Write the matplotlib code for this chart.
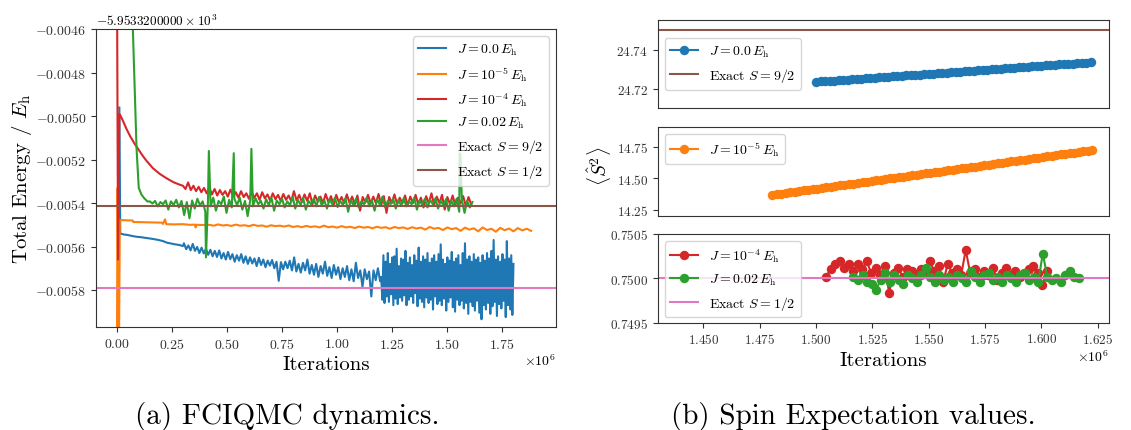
import numpy as np
import matplotlib
matplotlib.use('Agg')
import matplotlib.pyplot as plt
from matplotlib.ticker import FixedLocator, FuncFormatter

plt.rcParams.update({
    'font.family': ['cmr10', 'DejaVu Serif'],
    'mathtext.fontset': 'cm',
    'axes.formatter.use_mathtext': True,
    'axes.unicode_minus': True,
    'axes.edgecolor': '#333333',
    'xtick.color': '#333333',
    'ytick.color': '#333333',
})

# ---------------- data: left panel (x in 1e6 iterations, y in 1e-4 Eh, relative to -5953.32 Eh)
labels_J = [r'$J = 0.0\,E_\mathrm{h}$', r'$J = 10^{-5}\,E_\mathrm{h}$',
            r'$J = 10^{-4}\,E_\mathrm{h}$', r'$J = 0.02\,E_\mathrm{h}$']
label_exact92 = r'Exact $S = 9/2$'
label_exact12 = r'Exact $S = 1/2$'
exact_92_energy = -57.92
exact_12_energy = -54.12

# J = 0.0
blue_x0 = [0.012, 0.016, 0.03, 0.05, 0.073, 0.09, 0.11, 0.13, 0.15, 0.17, 0.19, 0.21, 0.227, 0.245, 0.265, 0.285, 0.30]
blue_y0 = [-49.6, -55.40, -55.44, -55.47, -55.52, -55.55, -55.57, -55.60, -55.63, -55.66, -55.70, -55.75, -55.82, -55.86, -55.90, -55.93, -55.98]
blue_start1, blue_step1 = 0.305, 0.01
blue_y1 = [-55.85, -56.12, -55.95, -56.18, -55.88, -56.20, -56.02, -56.30, -56.05, -56.32,
           -56.10, -56.38, -56.15, -56.45, -56.20, -56.48, -56.18, -56.55, -56.30, -56.60,
           -56.25, -56.58, -56.35, -56.70, -56.40, -56.65, -56.35, -56.75, -56.45, -56.80,
           -56.50, -56.78, -56.55, -56.90, -56.52, -56.85, -56.60, -56.95, -56.65, -56.88,
           -56.62, -57.00, -56.70, -57.58, -56.72, -57.05, -56.70, -57.00, -56.65, -57.10,
           -56.50, -57.15, -56.80, -57.20, -56.75, -57.10, -56.60, -57.25, -56.85, -57.30,
           -56.80, -57.40, -56.90, -57.25, -56.70, -57.35, -56.95, -57.45, -56.85, -57.30,
           -56.95, -57.50, -57.00, -57.40, -56.90, -57.55, -57.05, -57.60, -56.75, -57.45,
           -57.10, -57.85, -57.05, -57.50, -57.15, -58.30, -57.10, -57.55, -57.00, -57.60]
blue_start2, blue_step2 = 1.200, 0.005
blue_y2 = [-57.40, -58.45, -56.40, -58.60, -56.70, -58.30, -56.30, -58.55, -56.80, -58.20,
           -56.50, -58.70, -56.45, -58.40, -56.10, -58.65, -56.90, -58.35, -56.55, -58.50,
           -56.60, -58.25, -56.20, -58.70, -56.75, -58.45, -56.50, -58.30, -56.85, -58.60,
           -56.40, -58.15, -56.65, -58.75, -56.05, -58.40, -56.70, -58.55, -56.45, -58.80,
           -56.60, -58.35, -56.30, -58.60, -56.75, -58.45, -56.55, -58.90, -56.40, -58.30,
           -56.70, -58.65, -56.35, -58.50, -55.90, -58.70, -56.60, -58.40, -56.80, -58.95,
           -56.50, -58.55, -56.65, -58.35, -56.25, -58.80, -56.70, -59.00, -56.55, -58.45,
           -56.40, -58.70, -56.85, -58.50, -56.30, -58.85, -55.85, -58.60, -56.60, -59.10,
           -56.45, -58.55, -56.70, -58.75, -56.35, -58.95, -56.60, -58.50, -56.50, -59.05,
           -56.75, -59.35, -56.40, -58.70, -56.65, -58.90, -56.30, -58.60, -56.55, -59.10,
           -56.20, -58.75, -55.70, -58.55, -56.60, -59.20, -56.45, -58.65, -56.70, -58.85,
           -56.35, -58.50, -56.60, -59.25, -55.75, -58.70, -56.55, -58.90, -56.40, -59.15,
           -56.80]

# J = 1e-5
orange_x0 = [0.0, 0.004, 0.009, 0.014, 0.04, 0.072, 0.075, 0.12, 0.16, 0.205, 0.21, 0.219, 0.225, 0.26, 0.30, 0.33, 0.355, 0.358, 0.362, 0.40]
orange_y0 = [-63.0, -53.3, -63.0, -54.78, -54.79, -54.80, -54.87, -54.88, -54.89, -54.90, -54.96, -54.75, -54.97, -54.98, -54.97, -55.00, -54.99, -55.12, -55.00, -55.01]
orange_start1, orange_step1 = 0.42, 0.02
orange_y1 = [-55.00, -55.04, -54.98, -55.03, -55.01, -55.05, -54.99, -55.04, -55.02, -55.06,
             -55.00, -55.05, -55.03, -55.09, -55.02, -55.06, -55.04, -55.08, -55.03, -55.10,
             -55.06, -55.11, -55.05, -55.10, -55.07, -55.12, -55.04, -55.11, -55.08, -55.13,
             -55.06, -55.12, -55.09, -55.15, -55.08, -55.13, -55.10, -55.16, -55.09, -55.14,
             -55.11, -55.18, -55.10, -55.15, -55.12, -55.19, -55.11, -55.17, -55.13, -55.22,
             -55.10, -55.18, -55.14, -55.24, -55.12, -55.20, -55.15, -55.28, -55.13, -55.22,
             -55.16, -55.30, -55.12, -55.24, -55.18, -55.32, -55.14, -55.25, -55.17, -55.30,
             -55.15, -55.26, -55.18, -55.28]

# J = 1e-4
red_x0 = [0.0, 0.006, 0.012, 0.016, 0.03, 0.045, 0.06, 0.08, 0.10, 0.12, 0.135, 0.165, 0.196, 0.225, 0.258, 0.285]
red_y0 = [-40.0, -56.6, -49.9, -49.95, -50.25, -50.6, -50.9, -51.25, -51.55, -51.85, -52.05, -52.40, -52.66, -52.85, -53.04, -53.15]
red_start1, red_step1 = 0.300, 0.012
red_y1 = [-53.20, -53.35, -53.05, -53.40, -53.20, -53.45, -53.25, -53.50, -53.30, -53.55,
          -53.28, -53.60, -53.35, -53.65, -53.40, -53.62, -53.45, -53.70, -53.38, -53.68,
          -53.50, -53.75, -53.45, -53.72, -53.55, -53.80, -53.48, -53.76, -53.55, -53.85,
          -53.50, -53.78, -53.60, -53.88, -53.55, -53.82, -53.62, -53.90, -53.58, -53.85,
          -53.65, -53.92, -53.45, -53.88, -53.62, -53.95, -53.60, -53.90, -53.55, -54.05,
          -53.65, -53.92, -53.70, -54.00, -53.58, -53.95, -53.68, -54.10, -53.62, -53.96,
          -53.72, -54.00, -53.60, -53.98, -53.70, -54.05, -53.65, -54.35, -53.72, -53.98,
          -53.62, -54.02, -53.70, -54.00, -53.58, -54.08, -53.68, -54.45, -53.72, -54.00,
          -53.60, -54.05, -53.75, -54.02, -53.65, -54.10, -53.70, -54.00, -53.62, -54.05,
          -53.75, -54.20, -53.68, -54.02, -53.55, -54.08, -53.70, -54.00, -53.62, -54.30,
          -53.72, -54.05, -53.65, -54.10, -53.75, -54.02, -53.68, -54.15, -53.72, -54.05]

# J = 0.02
green_x0 = [0.0, 0.073, 0.090, 0.100, 0.112, 0.125, 0.140]
green_y0 = [-30.0, -45.9, -51.5, -53.3, -53.6, -53.78, -53.93]
green_start1, green_step1 = 0.150, 0.012
green_y1 = [-53.92, -54.02, -53.90, -54.15, -53.95, -54.05, -53.88, -54.30, -53.92, -54.08,
            -53.85, -54.20, -53.90, -54.55, -53.95, -54.70, -53.88, -54.25, -53.80, -54.10,
            -53.92, -54.40, -53.85, -54.15, -53.75, -54.35, -53.90, -54.05, -53.70, -54.45,
            -53.85, -54.20, -53.80, -54.10, -53.75, -54.30, -53.90, -54.60, -53.85, -54.15,
            -53.78, -54.05, -53.90, -54.25, -53.82, -54.10, -53.75, -54.35, -53.88, -54.05,
            -53.80, -54.20, -53.92, -54.10, -53.70, -54.25, -53.85, -54.08, -53.78, -54.30,
            -53.90, -54.05, -53.80, -54.15, -53.72, -54.10, -53.88, -54.25, -53.82, -54.05,
            -53.75, -54.18, -53.90, -54.08, -53.78, -54.40, -53.85, -54.10, -53.80, -54.20,
            -53.92, -54.05, -53.75, -54.15, -53.88, -54.35, -53.82, -54.08, -53.70, -54.20,
            -53.90, -54.05, -53.80, -54.25, -53.85, -54.10, -53.78, -54.15, -53.92, -54.05,
            -53.75, -54.30, -53.88, -54.08, -53.80, -54.20, -53.85, -54.05, -53.78, -54.25,
            -53.90, -54.10, -53.82, -54.35, -53.88, -54.15, -53.80, -54.40, -53.85, -54.45,
            -53.90, -54.20, -53.95]
green_spike_x = [0.405, 0.418, 0.531, 0.611, 1.556, 1.559]
green_spike_y = [-56.5, -51.6, -51.7, -51.5, -51.7, -51.75]

# ---------------- data: right panels (x in 1e6 iterations)
s2_blue_start, s2_blue_step = 1.500, 0.002
s2_blue = [24.7237, 24.7239, 24.7240, 24.7242, 24.7243, 24.7245, 24.7247, 24.7248, 24.7250, 24.7252,
           24.7253, 24.7255, 24.7257, 24.7258, 24.7260, 24.7261, 24.7263, 24.7265, 24.7266, 24.7268,
           24.7270, 24.7271, 24.7273, 24.7274, 24.7276, 24.7278, 24.7279, 24.7281, 24.7283, 24.7284,
           24.7286, 24.7287, 24.7289, 24.7291, 24.7292, 24.7294, 24.7296, 24.7297, 24.7299, 24.7300,
           24.7302, 24.7304, 24.7305, 24.7307, 24.7309, 24.7310, 24.7312, 24.7314, 24.7315, 24.7317,
           24.7318, 24.7320, 24.7322, 24.7323, 24.7325, 24.7327, 24.7328, 24.7330, 24.7331, 24.7333,
           24.7335, 24.7337]
s2_orange_start, s2_orange_step = 1.4806, 0.002
s2_orange = [14.368, 14.373, 14.378, 14.383, 14.388, 14.393, 14.398, 14.403, 14.408, 14.413,
             14.418, 14.423, 14.428, 14.433, 14.438, 14.443, 14.448, 14.453, 14.458, 14.463,
             14.468, 14.473, 14.478, 14.483, 14.488, 14.493, 14.498, 14.503, 14.508, 14.513,
             14.518, 14.523, 14.528, 14.533, 14.538, 14.543, 14.548, 14.553, 14.558, 14.563,
             14.568, 14.573, 14.578, 14.583, 14.588, 14.593, 14.598, 14.603, 14.608, 14.613,
             14.618, 14.623, 14.628, 14.633, 14.638, 14.643, 14.648, 14.653, 14.658, 14.663,
             14.668, 14.673, 14.678, 14.684, 14.689, 14.694, 14.699, 14.704, 14.709, 14.714,
             14.719, 14.724]
s2_red_start, s2_red_step = 1.5044, 0.002
s2_red = [0.75002, 0.75010, 0.75016, 0.75019, 0.75012, 0.75016, 0.75008, 0.75016, 0.75010, 0.75020,
          0.75006, 0.75012, 0.75004, 0.75014, 0.74984, 0.75006, 0.75012, 0.75002, 0.75010, 0.75008,
          0.75004, 0.75010, 0.75006, 0.75020, 0.75008, 0.75014, 0.74996, 0.75016, 0.75006, 0.75010,
          0.75004, 0.75032, 0.75006, 0.75010, 0.75002, 0.75008, 0.75004, 0.75012, 0.74998, 0.75006,
          0.75012, 0.75004, 0.75008, 0.75002, 0.75006, 0.75010, 0.75014, 0.75006, 0.74992, 0.75008]
s2_green_start, s2_green_step = 1.5166, 0.002
s2_green = [0.75002, 0.74998, 0.75004, 0.74996, 0.74994, 0.74987, 0.74998, 0.75006, 0.74996, 0.75004,
            0.74998, 0.74994, 0.75004, 0.75000, 0.74996, 0.75004, 0.75012, 0.75002, 0.74996, 0.75004,
            0.74998, 0.75002, 0.74996, 0.75004, 0.75000, 0.74996, 0.75008, 0.75002, 0.74996, 0.75004,
            0.75006, 0.74998, 0.75002, 0.74996, 0.75004, 0.75000, 0.74996, 0.75004, 0.75006, 0.74998,
            0.75002, 0.74996, 0.75028, 0.75002, 0.74998, 0.75000, 0.74996, 0.75004, 0.75008, 0.75002,
            0.75000]
exact_s2_92 = 24.75
exact_s2_12 = 0.75

left_xticks = [0.0, 0.25, 0.5, 0.75, 1.0, 1.25, 1.5, 1.75]
left_yticks = [-46, -48, -50, -52, -54, -56, -58]
right_xticks = [1.450, 1.475, 1.500, 1.525, 1.550, 1.575, 1.600, 1.625]
p1_yticks = [24.72, 24.74]
p2_yticks = [14.25, 14.50, 14.75]
p3_yticks = [0.7495, 0.7500, 0.7505]


def grid(start, step, vals):
    return start + step * np.arange(len(vals))


def series(x0, y0, segments):
    xs = [np.asarray(x0, float)]
    ys = [np.asarray(y0, float)]
    for st, sp, v in segments:
        xs.append(grid(st, sp, v))
        ys.append(np.asarray(v, float))
    return np.concatenate(xs), np.concatenate(ys)


bx, by = series(blue_x0, blue_y0, [(blue_start1, blue_step1, blue_y1), (blue_start2, blue_step2, blue_y2)])
ox, oy = series(orange_x0, orange_y0, [(orange_start1, orange_step1, orange_y1)])
rx, ry = series(red_x0, red_y0, [(red_start1, red_step1, red_y1)])
gx, gy = series(green_x0 + green_spike_x, green_y0 + green_spike_y, [(green_start1, green_step1, green_y1)])
order = np.argsort(gx, kind='stable')
gx, gy = gx[order], gy[order]

W, H = 1131, 431
fig = plt.figure(figsize=(W / 100, H / 100), dpi=100)


def box(l, t, r, b):
    return [l / W, 1 - b / H, (r - l) / W, (b - t) / H]


ax = fig.add_axes(box(96, 30.4, 556, 328.3))
cols = ['C0', 'C1', 'C3', 'C2']
for (x, y), c, lab in zip([(bx, by), (ox, oy), (rx, ry), (gx, gy)], cols, labels_J):
    ax.plot(x * 1e6, y * 1e-4, color=c, lw=1.5, label=lab)
ax.axhline(exact_92_energy * 1e-4, color='C6', lw=1.5, label=label_exact92)
ax.axhline(exact_12_energy * 1e-4, color='C5', lw=1.5, label=label_exact12)
ax.set_xlim(-0.094e6, 1.993e6)
ax.set_ylim(-59.72e-4, -46e-4)
ax.xaxis.set_major_locator(FixedLocator([v * 1e6 for v in left_xticks]))
ax.xaxis.set_major_formatter(FuncFormatter(lambda v, p: f'${v/1e6:.2f}$'))
ax.yaxis.set_major_locator(FixedLocator([v * 1e-4 for v in left_yticks]))
ax.yaxis.set_major_formatter(FuncFormatter(lambda v, p: f'${v:.4f}$'))
ax.tick_params(labelsize=10)
ax.text(0.0, 1.005, r'$-5.9533200000\times10^{3}$', transform=ax.transAxes, ha='left', va='bottom', fontsize=9.5)
ax.text(1.0, -0.112, r'$\times10^{6}$', transform=ax.transAxes, ha='right', va='center', fontsize=10)
ax.legend(loc='upper right', fontsize=10)
fig.text(326 / W, 1 - 365 / H, 'Iterations', ha='center', va='center', fontsize=15)
fig.text(22 / W, 1 - 179 / H, r'Total Energy / $E_\mathrm{h}$', ha='center', va='center', rotation=90, fontsize=15)

# right panels
rl, rr = 657.7, 1109
a1 = fig.add_axes(box(rl, 20.7, rr, 109.3))
a2 = fig.add_axes(box(rl, 128.3, rr, 217.3), sharex=a1)
a3 = fig.add_axes(box(rl, 235, rr, 323.7), sharex=a1)
mk = dict(marker='o', markersize=6.8, markeredgewidth=0, lw=1.5)
a1.plot(grid(s2_blue_start, s2_blue_step, s2_blue) * 1e6, s2_blue, color='C0', label=labels_J[0], **mk)
a1.axhline(exact_s2_92, color='C5', lw=1.5, label=label_exact92)
a2.plot(grid(s2_orange_start, s2_orange_step, s2_orange) * 1e6, s2_orange, color='C1', label=labels_J[1], **mk)
a3.plot(grid(s2_red_start, s2_red_step, s2_red) * 1e6, s2_red, color='C3', label=labels_J[2], **mk)
a3.plot(grid(s2_green_start, s2_green_step, s2_green) * 1e6, s2_green, color='C2', label=labels_J[3], **mk)
a3.axhline(exact_s2_12, color='C6', lw=1.5, label=label_exact12)
a1.set_ylim(24.7102, 24.7553)
a2.set_ylim(14.198, 14.904)
a3.set_ylim(0.7495, 0.7505)
a3.set_xlim(1.4297e6, 1.630e6)
a1.yaxis.set_major_locator(FixedLocator(p1_yticks))
a1.yaxis.set_major_formatter(FuncFormatter(lambda v, p: f'${v:.2f}$'))
a2.yaxis.set_major_locator(FixedLocator(p2_yticks))
a2.yaxis.set_major_formatter(FuncFormatter(lambda v, p: f'${v:.2f}$'))
a3.yaxis.set_major_locator(FixedLocator(p3_yticks))
a3.yaxis.set_major_formatter(FuncFormatter(lambda v, p: f'${v:.4f}$'))
a3.xaxis.set_major_locator(FixedLocator([v * 1e6 for v in right_xticks]))
a3.xaxis.set_major_formatter(FuncFormatter(lambda v, p: f'${v/1e6:.3f}$'))
for a in (a1, a2):
    a.tick_params(axis='x', bottom=False, labelbottom=False)
for a in (a1, a2, a3):
    a.tick_params(labelsize=9.5)
a1.legend(loc='center left', fontsize=10)
a2.legend(loc='upper left', fontsize=10)
a3.legend(loc='upper left', fontsize=10)
a3.text(1.0, -0.383, r'$\times10^{6}$', transform=a3.transAxes, ha='right', va='center', fontsize=10)
fig.text(883 / W, 1 - 361 / H, 'Iterations', ha='center', va='center', fontsize=15)
fig.text(600 / W, 1 - 166 / H, r'$\langle \hat{S}^2 \rangle$', ha='center', va='center', rotation=90, fontsize=14)

fig.text(287 / W, 1 - 416.7 / H, '(a) FCIQMC dynamics.', ha='center', va='center', fontsize=21)
fig.text(853 / W, 1 - 416.7 / H, '(b) Spin Expectation values.', ha='center', va='center', fontsize=21)

fig.savefig('out.png', dpi=100)
